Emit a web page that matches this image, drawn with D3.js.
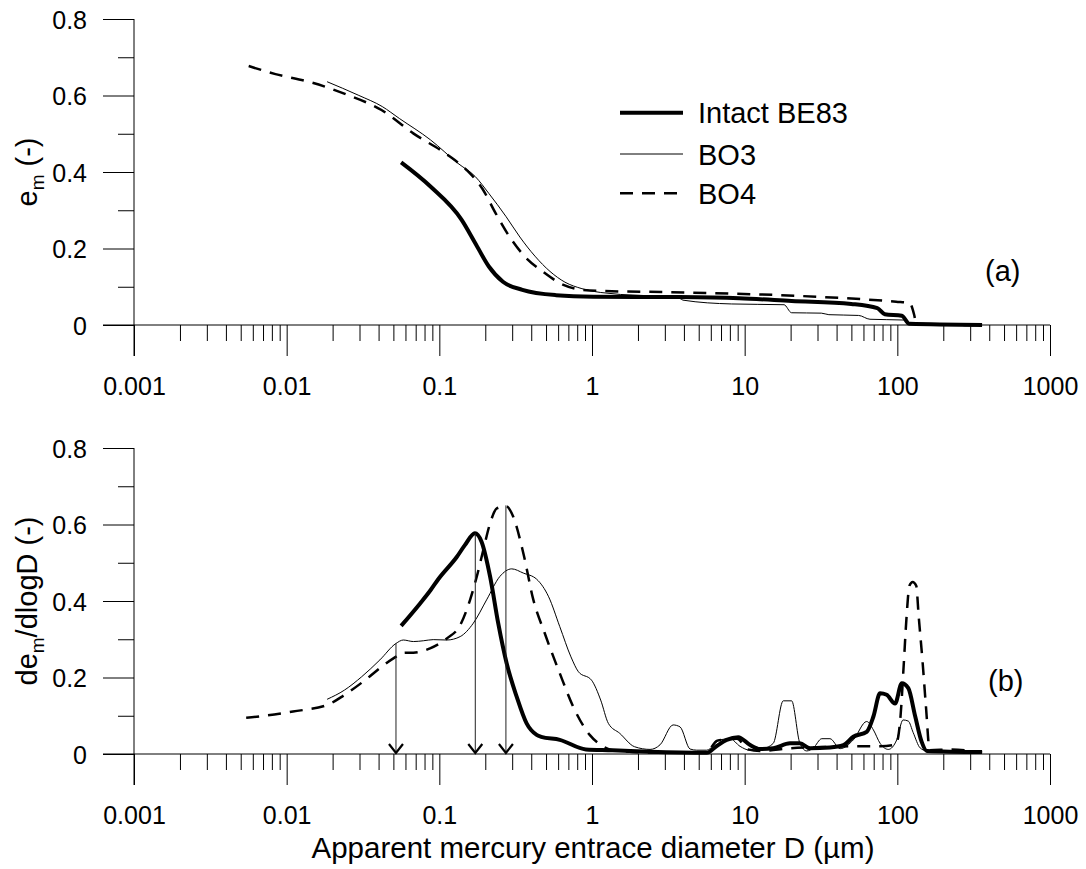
<!DOCTYPE html>
<html><head><meta charset="utf-8">
<script src="https://cdn.jsdelivr.net/npm/d3@7"></script>
<style>
html,body{margin:0;padding:0;background:#fff;}
svg{display:block;}
text{font-family:"Liberation Sans",Arial,Helvetica,sans-serif;fill:#000;}
</style>
</head><body>
<svg id="chart" width="1086" height="869"></svg>
<script>
// ---------------- data ----------------
const xMajorTicks = [0.001, 0.01, 0.1, 1, 10, 100, 1000];
const xMajorLabels = ["0.001", "0.01", "0.1", "1", "10", "100", "1000"];
const yMajorTicks = [0, 0.2, 0.4, 0.6, 0.8];
const yMajorLabels = ["0", "0.2", "0.4", "0.6", "0.8"];
const yMinorTicks = [0.1, 0.3, 0.5, 0.7];
const seriesNames = ["Intact BE83", "BO3", "BO4"];
const panelLabels = ["(a)", "(b)"];
const xTitle = "Apparent mercury entrace diameter D (µm)";

// (a) cumulative void ratio e_m vs D (µm)
const be83A_D = [0.0562,0.0875,0.140,0.172,0.211,0.261,0.350,0.581,1.02,3.74,9.20,20.3,49.9,74.0,82.8,107,120,359];
const be83A_E = [0.425,0.362,0.275,0.214,0.153,0.113,0.092,0.078,0.074,0.073,0.070,0.063,0.055,0.044,0.028,0.024,0.003,0.000];

const bo3A_D = [0.0184,0.0294,0.0423,0.0547,0.0875,0.132,0.172,0.211,0.274,0.337,0.423,0.531,0.665,0.859,1.14,3.74,3.94,8.22,18.1,20.3,31.8,35.6,55.8,66.2,110,120,359];
const bo3A_E = [0.636,0.601,0.571,0.540,0.484,0.423,0.388,0.344,0.283,0.230,0.180,0.140,0.112,0.095,0.085,0.070,0.065,0.055,0.053,0.032,0.031,0.027,0.025,0.015,0.013,0.003,0.000];

const bo4A_D = [0.00564,0.00845,0.0146,0.0245,0.0418,0.0675,0.114,0.151,0.191,0.234,0.288,0.361,0.478,0.650,0.966,4.18,22.7,98.2,120,129,133,316];
const bo4A_E = [0.677,0.656,0.634,0.603,0.562,0.501,0.444,0.405,0.357,0.292,0.231,0.180,0.139,0.105,0.090,0.085,0.076,0.061,0.058,0.026,0.003,0.000];

// (b) de_m/dlogD vs D (µm)
const be83B_D = [0.0562,0.0746,0.0875,0.0984,0.130,0.147,0.171,0.189,0.215,0.243,0.276,0.321,0.373,0.434,0.465,0.615,0.912,1.36,2.38,5.64,6.56,7.62,9.08,10.8,12.6,15.4,19.8,23.0,26.8,36.2,44.3,51.5,63.0,69.7,77.1,85.1,96.6,107,118,131,144,156,359];
const be83B_V = [0.335,0.393,0.428,0.457,0.515,0.546,0.577,0.555,0.464,0.342,0.237,0.150,0.080,0.050,0.045,0.037,0.012,0.010,0.006,0.003,0.021,0.037,0.044,0.024,0.013,0.015,0.028,0.028,0.015,0.017,0.023,0.045,0.058,0.098,0.159,0.155,0.132,0.185,0.172,0.098,0.033,0.008,0.005];

const bo3B_D = [0.0184,0.0239,0.0310,0.0408,0.0520,0.0581,0.0676,0.0785,0.0912,0.112,0.137,0.167,0.204,0.249,0.298,0.355,0.434,0.520,0.615,0.728,0.815,0.993,1.14,1.28,1.52,1.90,2.40,2.79,3.40,3.77,4.39,4.85,5.64,6.90,8.02,9.33,10.8,13.2,15.4,17.9,20.3,23.0,25.5,28.2,32.0,36.2,42.2,51.5,63.0,69.7,77.1,87.3,99.1,109,118,127,141,156,359];
const bo3B_V = [0.143,0.167,0.202,0.246,0.289,0.298,0.294,0.296,0.299,0.298,0.307,0.342,0.403,0.464,0.484,0.473,0.457,0.411,0.333,0.254,0.215,0.193,0.141,0.080,0.054,0.019,0.012,0.024,0.076,0.071,0.013,0.010,0.010,0.037,0.040,0.020,0.010,0.014,0.028,0.139,0.139,0.028,0.008,0.016,0.040,0.040,0.014,0.037,0.085,0.063,0.028,0.012,0.037,0.089,0.086,0.056,0.016,0.008,0.004];

const bo4B_D = [0.00543,0.00686,0.0110,0.0189,0.0226,0.0326,0.0419,0.0500,0.0596,0.0676,0.0869,0.112,0.137,0.159,0.176,0.194,0.215,0.238,0.274,0.305,0.355,0.413,0.491,0.615,0.771,0.966,1.14,1.36,2.51,5.62,6.61,8.91,10.5,12.6,20.0,31.6,50.1,77.6,97.7,105,110,115,120,126,133,138,146,154,163,224,359];
const bo4B_V = [0.095,0.099,0.111,0.130,0.148,0.193,0.228,0.250,0.265,0.265,0.276,0.302,0.337,0.403,0.464,0.533,0.603,0.642,0.648,0.620,0.525,0.403,0.315,0.211,0.115,0.050,0.024,0.010,0.004,0.004,0.035,0.040,0.012,0.008,0.015,0.018,0.020,0.020,0.025,0.100,0.230,0.360,0.440,0.450,0.440,0.360,0.246,0.124,0.010,0.012,0.004];

// arrows in (b): diameter and top value
const arrowD = [0.052, 0.172, 0.273];
const arrowTop = [0.289, 0.577, 0.650];

// ---------------- drawing ----------------
const svg = d3.select("#chart");
const X0 = 134, X1 = 1050;
const x = d3.scaleLog().domain([0.001, 1000]).range([X0, X1]);

const styles = [
  {w: 4, dash: null},
  {w: 1, dash: null},
  {w: 2.5, dash: "13,9"}
];

const panels = [
  {top: 19, bottom: 325, yTitle: "e", ySub: "m", yRest: " (-)",
   series: [[be83A_D, be83A_E], [bo3A_D, bo3A_E], [bo4A_D, bo4A_E]],
   label: panelLabels[0], labelX: 985, labelY: 281},
  {top: 448, bottom: 754, yTitle: "de", ySub: "m", yRest: "/dlogD (-)",
   series: [[be83B_D, be83B_V], [bo3B_D, bo3B_V], [bo4B_D, bo4B_V]],
   label: panelLabels[1], labelX: 988, labelY: 691}
];

const xMinor = [];
for (let i = 0; i < xMajorTicks.length - 1; i++)
  for (let k = 2; k <= 9; k++) xMinor.push(xMajorTicks[i] * k);

panels.forEach((p, pi) => {
  const y = d3.scaleLinear().domain([0, 0.8]).range([p.bottom, p.top]);
  const g = svg.append("g");

  // x axis: major ticks with labels
  const xAxis = d3.axisBottom(x).tickValues(xMajorTicks)
    .tickFormat((d, i) => xMajorLabels[i]).tickSize(31).tickPadding(0);
  const gx = g.append("g").attr("transform", `translate(0,${p.bottom})`).call(xAxis);
  gx.select(".domain").remove();
  gx.selectAll("line").attr("stroke", "#000").attr("stroke-width", 1);
  gx.selectAll("text").attr("y", 70).attr("dy", null)
    .style("font-size", "25px").attr("fill", "#000");
  // minor x ticks
  const gxm = g.append("g").attr("transform", `translate(0,${p.bottom})`)
    .call(d3.axisBottom(x).tickValues(xMinor).tickFormat("").tickSize(16));
  gxm.select(".domain").remove();
  gxm.selectAll("line").attr("stroke", "#000").attr("stroke-width", 1);

  // y axis
  const yAxis = d3.axisLeft(y).tickValues(yMajorTicks)
    .tickFormat((d, i) => yMajorLabels[i]).tickSize(31).tickPadding(16);
  const gy = g.append("g").attr("transform", `translate(${X0},0)`).call(yAxis);
  gy.select(".domain").remove();
  gy.selectAll("line").attr("stroke", "#000").attr("stroke-width", 1);
  gy.selectAll("text").attr("dy", "0.36em").style("font-size", "25px").attr("fill", "#000");
  const gym = g.append("g").attr("transform", `translate(${X0},0)`)
    .call(d3.axisLeft(y).tickValues(yMinorTicks).tickFormat("").tickSize(16));
  gym.select(".domain").remove();
  gym.selectAll("line").attr("stroke", "#000").attr("stroke-width", 1);

  // axis lines
  g.append("line").attr("x1", X0 - 31).attr("x2", X1)
    .attr("y1", y(0)).attr("y2", y(0)).attr("stroke", "#000").attr("stroke-width", 1);
  g.append("line").attr("x1", X0).attr("x2", X0)
    .attr("y1", y(0.8)).attr("y2", y(0) + 31).attr("stroke", "#000").attr("stroke-width", 1);

  // y title
  const t = g.append("text")
    .attr("transform", `translate(37,${(p.top + p.bottom) / 2}) rotate(-90)`)
    .attr("text-anchor", "middle").style("font-size", "29px");
  t.append("tspan").text(p.yTitle);
  t.append("tspan").text(p.ySub).style("font-size", "19px").attr("dy", 7);
  t.append("tspan").text(p.yRest).attr("dy", -7);

  // series
  p.series.forEach((s, si) => {
    const pts = s[0].map((d, i) => [d, s[1][i]]);
    const line = d3.line().x(d => x(d[0])).y(d => y(d[1])).curve(d3.curveMonotoneX);
    g.append("path").datum(pts).attr("d", line)
      .attr("fill", "none").attr("stroke", "#000")
      .attr("stroke-width", styles[si].w)
      .attr("stroke-dasharray", styles[si].dash)
      .attr("stroke-linejoin", "round");
  });

  // panel label
  g.append("text").attr("x", p.labelX).attr("y", p.labelY)
    .style("font-size", "29px").text(p.label);

  if (pi === 1) {
    // arrows
    arrowD.forEach((d, i) => {
      const ax = x(d);
      g.append("line").attr("x1", ax).attr("x2", ax)
        .attr("y1", y(arrowTop[i])).attr("y2", y(0) - 1)
        .attr("stroke", "#222").attr("stroke-width", 1);
      g.append("path")
        .attr("d", `M${ax - 7},${y(0) - 10} L${ax},${y(0) - 1} L${ax + 7},${y(0) - 10}`)
        .attr("fill", "none").attr("stroke", "#000").attr("stroke-width", 2.2)
        .attr("stroke-linejoin", "miter");
    });
  }

  if (pi === 0) {
    // legend
    const legY = [112.7, 154, 193.3];
    seriesNames.forEach((n, i) => {
      g.append("line").attr("x1", 620).attr("x2", 683)
        .attr("y1", legY[i]).attr("y2", legY[i])
        .attr("stroke", "#000").attr("stroke-width", styles[i].w)
        .attr("stroke-dasharray", styles[i].dash);
      g.append("text").attr("x", 698).attr("y", legY[i] + 10.5)
        .style("font-size", "29px").text(n);
    });
  }
});

// x title
svg.append("text").attr("x", 593).attr("y", 858).attr("text-anchor", "middle")
  .style("font-size", "29.5px").text(xTitle);
</script>
</body></html>
